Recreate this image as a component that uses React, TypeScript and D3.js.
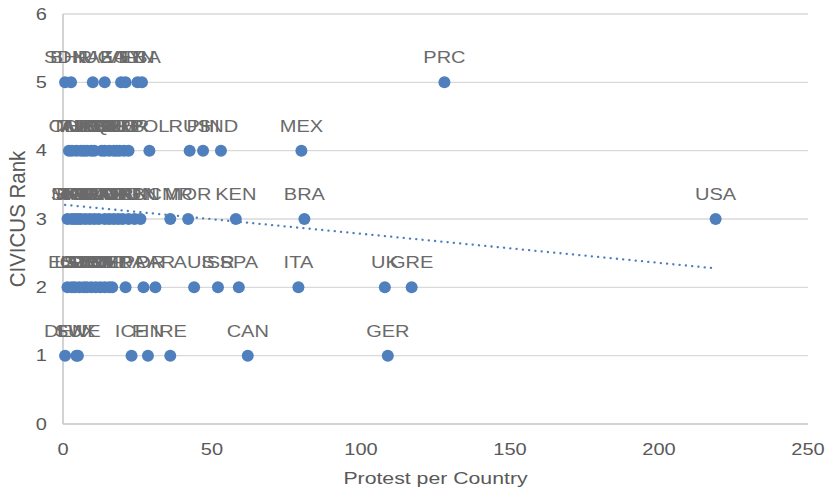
import React from "react";
import * as d3 from "d3";

const countries = [
  "SDN","BHR","KAZ","UGA","EGY","VEN","IRN","LBA","PRC",
  "COL","THA","TUR","ALG","ARM","HKG","IRQ","LEB","BOL","ECU","HAI","SRL","GEO","ZIM","SRB","PER","POL","RUS","PHI","IND","MEX",
  "SIN","MAL","JPN","KOR","TWN","NGA","GHA","SEN","TUN","UKR","IRL","JOR","ARG","CHL","PAN","HUN","LBN","CMR","MOR","KEN","BRA","USA",
  "EST","LAT","LIT","CZE","SVK","SLO","CRO","ROM","BUL","CYP","MLT","NED","FRA","POR","PAR","AUS","ISR","SPA","ITA","UK","GRE",
  "DEN","LUX","SWE","ICE","FIN","IRE","CAN","GER",
];
const protests = [
  0.7, 2.7, 10, 14, 19.5, 21, 25, 26.5, 128,
  2, 3, 4.5, 6, 7, 8, 9.5, 10.5, 13, 14, 15.5, 17, 18, 19, 20.5, 22, 29, 42.5, 47, 53, 80,
  1.5, 3, 4, 5, 6, 7.5, 9, 10.5, 12, 14, 15.5, 17, 18.5, 20, 22, 24, 26, 36, 42, 58, 81, 219,
  1.5, 3, 4, 5.5, 7, 8, 9.5, 11, 12.5, 14, 15.5, 16.5, 21, 27, 31, 44, 52, 59, 79, 108, 117,
  0.7, 4.5, 5, 23, 28.5, 36, 62, 109,
];
const ranks = [
  5,5,5,5,5,5,5,5,5,
  4,4,4,4,4,4,4,4,4,4,4,4,4,4,4,4,4,4,4,4,4,
  3,3,3,3,3,3,3,3,3,3,3,3,3,3,3,3,3,3,3,3,3,3,
  2,2,2,2,2,2,2,2,2,2,2,2,2,2,2,2,2,2,2,2,2,
  1,1,1,1,1,1,1,1,
];
// linear trendline
const trendIntercept = 3.21;
const trendSlope = -0.00426;
const xTicks = [0, 50, 100, 150, 200, 250];
const yTicks = [0, 1, 2, 3, 4, 5, 6];
const xTitle = "Protest per Country";
const yTitle = "CIVICUS Rank";

export default function App() {
  const W = 825, H = 487;
  const x = d3.scaleLinear().domain([0, 250]).range([63, 808]);
  const y = d3.scaleLinear().domain([0, 6]).range([424, 14]);
  const data = countries.map((c, i) => ({ c, x: protests[i], y: ranks[i] }));

  const xMin = d3.min(protests)!;
  const xMax = d3.max(protests)!;
  const line = d3.line<number>().x(v => x(v)).y(v => y(trendIntercept + trendSlope * v));

  const font = "'Liberation Sans', Arial, sans-serif";
  const gray = "#595959";
  const labelGray = "#6a6a6a";
  const SX = 1.25;
  return (
    <svg width={W} height={H} style={{ position: "absolute", left: 0, top: 0, background: "#fff" }}>
      {yTicks.map(t => (
        <g key={t}>
          {t > 0 && <line x1={x(0)} x2={x(250)} y1={y(t)} y2={y(t)} stroke="#d9d9d9" strokeWidth={1.3} />}
          <text transform={`translate(47,${y(t)}) scale(${SX},1)`} dy="0.35em" textAnchor="end" fontFamily={font} fontSize={16} fill={gray}>{t}</text>
        </g>
      ))}
      <line x1={x(0)} x2={x(0)} y1={y(6)} y2={y(0)} stroke="#c4c4c4" strokeWidth={1.5} />
      <line x1={x(0)} x2={x(250)} y1={y(0)} y2={y(0)} stroke="#c4c4c4" strokeWidth={1.5} />
      {xTicks.map(t => (
        <text key={t} transform={`translate(${x(t)},455) scale(${SX},1)`} textAnchor="middle" fontFamily={font} fontSize={16} fill={gray}>{t}</text>
      ))}
      <text transform={`translate(${x(125)},484) scale(${SX},1)`} textAnchor="middle" fontFamily={font} fontSize={17} fill={gray}>{xTitle}</text>
      <text transform={`translate(25,${y(3)}) scale(1.08,1) rotate(-90)`} textAnchor="middle" fontFamily={font} fontSize={20.5} fill={gray}>{yTitle}</text>
      <path d={line([xMin, xMax]) || ""} fill="none" stroke="#4a7ebb" strokeWidth={2.3} strokeDasharray="0.1 6.2" strokeLinecap="round" />
      {data.map((d, i) => (
        <circle key={i} cx={x(d.x)} cy={y(d.y)} r={6} fill="#4f7fbd" />
      ))}
      {data.map((d, i) => (
        <text key={"l" + i} transform={`translate(${x(d.x)},${y(d.y) - 19}) scale(${SX},1)`} textAnchor="middle" fontFamily={font} fontSize={16} fill={labelGray}>{d.c}</text>
      ))}
    </svg>
  );
}
